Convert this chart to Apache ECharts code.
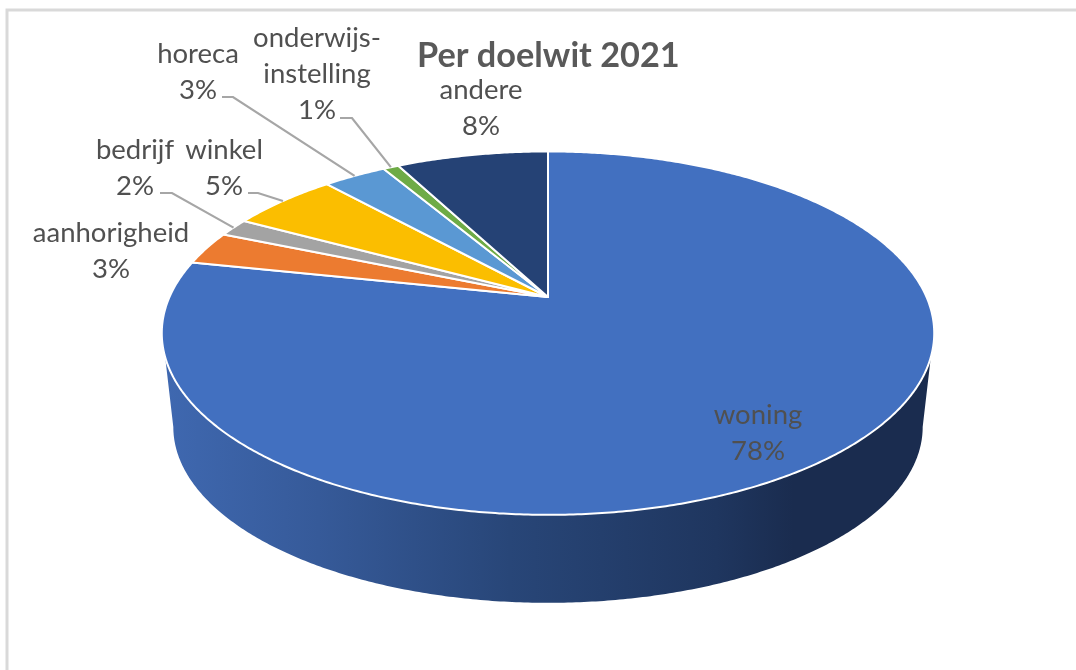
<!DOCTYPE html>
<html>
<head>
<meta charset="utf-8">
<style>html,body{margin:0;padding:0;background:#fff}#c{width:1076px;height:670px}</style>
<script src="https://cdn.jsdelivr.net/npm/echarts@6/dist/echarts.min.js"></script>
</head>
<body>
<div id="c"></div>
<script>
const titleText = 'Per doelwit 2021';
const categories = ['woning', 'aanhorigheid', 'bedrijf', 'winkel', 'horeca', 'onderwijs-\ninstelling', 'andere'];
const shares = [78.3, 3.0, 1.6, 5.4, 3.2, 0.8, 7.7];
const sliceColors = ['#4270C0', '#EC7B30', '#A3A3A3', '#FBBE00', '#5A98D3', '#6EAB46', '#254275'];

// Layout of the perspective disc (screen pixels)
const disc = {cx: 548, cy: 297, A: 378.5, B: 174.5, k: 0.1989};
const base = {cx: 548, cy: 392, A: 367.2, B: 168.9, k: 0.1989};
const wallTop = [108.8, 251.2], wallBottom = [101.5, 258.5];
// Label anchor (centre of first line) and optional leader start, by category index
const labelAt = [[758, 415], [111, 233], [135, 150], [224, 150], [198, 54], [317, 38], [481, 90]];
const leaderAt = [null, null, [[160, 193], [172, 193]], [[248, 193], [258, 193]], [[222, 97], [233, 97]], [[340, 118], [352, 118]], null];

function project(d, deg) {
  const t = deg * Math.PI / 180, u = Math.sin(t), v = Math.cos(t), w = 1 + d.k * v;
  return [d.cx + d.A * u / w, d.cy - d.B * v / w];
}
function arc(d, a, b) {
  const pts = [], n = Math.max(2, Math.ceil(Math.abs(b - a) * 2));
  for (let i = 0; i <= n; i++) pts.push(project(d, a + (b - a) * i / n));
  return pts;
}
const total = shares.reduce((s, v) => s + v, 0);

function renderItem(params, api) {
  const i = params.dataIndex, value = api.value(0);
  let before = 0;
  for (let j = 0; j < i; j++) before += shares[j];
  const a0 = before / total * 360, a1 = (before + value) / total * 360, mid = (a0 + a1) / 2;
  const children = [];
  const lo = Math.max(a0, wallTop[0]), hi = Math.min(a1, wallTop[1]);
  if (hi > lo) {
    children.push({
      type: 'polygon', silent: true,
      shape: {points: arc(disc, lo, hi).concat(arc(base, wallBottom[1], wallBottom[0]))},
      style: {
        fill: new echarts.graphic.LinearGradient(0, 0, 1, 0, [
          {offset: 0, color: '#3f68b0'},
          {offset: 0.2, color: '#365a99'},
          {offset: 0.45, color: '#284678'},
          {offset: 0.72, color: '#1f365f'},
          {offset: 0.82, color: '#1a2c4f'},
          {offset: 1, color: '#1a2c4f'}
        ])
      }
    });
  }
  children.push({
    type: 'polygon',
    shape: {points: [[disc.cx, disc.cy]].concat(arc(disc, a0, a1))},
    style: {fill: api.visual('color'), stroke: '#ffffff', lineWidth: 2, lineJoin: 'round'}
  });
  if (leaderAt[i]) {
    children.push({
      type: 'polyline', silent: true,
      shape: {points: leaderAt[i].concat([project(disc, mid)])},
      style: {fill: null, stroke: '#a6a6a6', lineWidth: 2.2}
    });
  }
  children.push({
    type: 'text', silent: true, z2: 10,
    x: labelAt[i][0], y: labelAt[i][1] - 18,
    style: {
      text: categories[i] + '\n' + Math.round(value / total * 100) + '%',
      fontFamily: 'Lato', fontSize: 27.5, lineHeight: 36,
      fill: '#505050', align: 'center', verticalAlign: 'top'
    }
  });
  return {type: 'group', children};
}

const chart = echarts.init(document.getElementById('c'), null, {renderer: 'canvas'});
chart.setOption({
  animation: false,
  backgroundColor: '#ffffff',
  title: {
    text: titleText, left: 417, top: 39, padding: 0,
    textStyle: {fontFamily: 'Lato', fontWeight: 'bold', fontSize: 34.3, color: '#595959'}
  },
  tooltip: {show: false},
  graphic: [{
    type: 'rect', silent: true, z: -1,
    shape: {x: 7, y: 10, width: 2000, height: 2000},
    style: {fill: null, stroke: '#d9d9d9', lineWidth: 3}
  }],
  series: [{
    type: 'custom',
    coordinateSystem: 'none',
    renderItem,
    clip: false,
    data: shares.map((v, i) => ({value: [v], name: categories[i], itemStyle: {color: sliceColors[i]}}))
  }]
});
</script>
</body>
</html>
